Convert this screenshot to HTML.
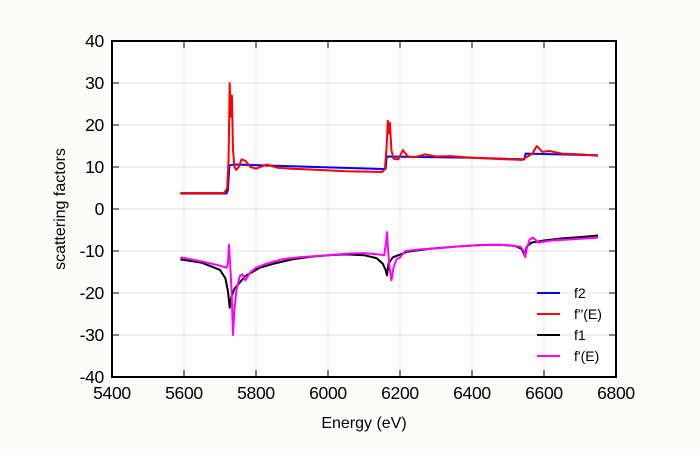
<!DOCTYPE html><html><head><style>body{margin:0;background:#fcfcfa}svg{font-family:"Liberation Sans",sans-serif}</style></head><body>
<svg id="s" width="700" height="450" xmlns="http://www.w3.org/2000/svg">
<rect width="700" height="450" fill="#fcfcfa"/>
<rect x="112" y="41" width="504" height="336" fill="#fff"/>
<g id="grid" stroke="#e0e0e0" stroke-width="1"></g>
<g id="series" fill="none" stroke-width="2" stroke-linejoin="round"></g>
<rect x="112" y="41" width="504" height="336" fill="none" stroke="#000" stroke-width="2"/>
<g id="ticks" stroke="#000" stroke-width="1"></g>
<g id="labels" font-size="17.5" fill="#000" letter-spacing="-0.3"></g>
<text x="364" y="428" font-size="16" text-anchor="middle">Energy (eV)</text>
<text transform="translate(65,209) rotate(-90)" font-size="16" text-anchor="middle">scattering factors</text>
<g font-size="14">
<line x1="537" y1="293" x2="560" y2="293" stroke="#0000ff" stroke-width="2"/><text x="574" y="298">f2</text>
<line x1="537" y1="314" x2="560" y2="314" stroke="#ff0000" stroke-width="2"/><text x="574" y="319">f''(E)</text>
<line x1="537" y1="335" x2="560" y2="335" stroke="#000" stroke-width="2"/><text x="574" y="340">f1</text>
<line x1="537" y1="356" x2="560" y2="356" stroke="#ff00ff" stroke-width="2"/><text x="574" y="361">f'(E)</text>
</g>
</svg>
<script>
const X=e=>112+(e-5400)*0.36, Y=v=>209-v*4.2, NS="http://www.w3.org/2000/svg";
function el(p,t,a){const n=document.createElementNS(NS,t);for(const k in a)n.setAttribute(k,a[k]);document.getElementById(p).appendChild(n);return n;}
for(let e=5600;e<=6600;e+=200){el("grid","line",{x1:X(e),x2:X(e),y1:41,y2:377});el("ticks","line",{x1:X(e),x2:X(e),y1:377,y2:370});el("ticks","line",{x1:X(e),x2:X(e),y1:41,y2:48});}
for(let v=-30;v<=30;v+=10){el("grid","line",{x1:112,x2:616,y1:Y(v),y2:Y(v)});el("ticks","line",{x1:112,x2:119,y1:Y(v),y2:Y(v)});el("ticks","line",{x1:616,x2:609,y1:Y(v),y2:Y(v)});}
for(let e=5400;e<=6800;e+=200){const t=el("labels","text",{x:X(e),y:399,"text-anchor":"middle"});t.textContent=e;}
for(let v=-40;v<=40;v+=10){const t=el("labels","text",{x:104,y:Y(v)+6,"text-anchor":"end"});t.textContent=v;}
const D={
"#0000ff":[[5590,3.7],[5718,3.7],[5722,4.5],[5726,10.4],[5740,10.6],[6000,9.9],[6160,9.5],[6163,12.5],[6400,12.2],[6545,11.8],[6549,13.2],[6750,12.8]],
"#ff0000":[[5590,3.8],[5712,3.8],[5720,5],[5724,12],[5727,30],[5730,22],[5733,27],[5736,14],[5740,10],[5745,9.3],[5752,10],[5760,11.8],[5770,11.5],[5785,10],[5800,9.6],[5830,10.6],[5860,9.8],[5900,9.6],[5950,9.4],[6000,9.2],[6050,9],[6100,8.9],[6150,8.8],[6158,9.5],[6163,15],[6166,21],[6169,18],[6172,20.5],[6176,14],[6182,12],[6195,11.8],[6208,14],[6222,12.5],[6240,12.3],[6270,13],[6300,12.5],[6340,12.6],[6400,12.2],[6450,12],[6500,11.8],[6540,11.7],[6548,12.2],[6556,12.6],[6568,13.2],[6580,15],[6595,13.6],[6615,13.8],[6650,13.2],[6700,13],[6750,12.7]],
"#000000":[[5590,-12],[5650,-12.8],[5700,-14.5],[5715,-16.5],[5722,-19.5],[5727,-23.5],[5731,-21],[5740,-19],[5770,-16],[5810,-14],[5850,-13],[5900,-12],[5950,-11.4],[6000,-11],[6050,-10.8],[6100,-11],[6135,-11.7],[6152,-13],[6160,-14.5],[6164,-15.8],[6168,-13],[6180,-11.5],[6220,-10.2],[6280,-9.5],[6350,-9],[6420,-8.6],[6480,-8.5],[6520,-8.8],[6538,-9.5],[6546,-11],[6552,-9],[6565,-8],[6600,-7.5],[6650,-7],[6700,-6.7],[6750,-6.3]],
"#ff00ff":[[5590,-11.5],[5650,-12.5],[5700,-13.5],[5718,-14],[5722,-13],[5725,-8.5],[5728,-13],[5732,-19],[5736,-30],[5740,-24],[5746,-19],[5755,-16],[5762,-15.5],[5770,-17],[5785,-15],[5800,-14],[5830,-13],[5870,-12],[5920,-11.5],[6000,-11],[6060,-10.6],[6100,-10.5],[6140,-10.8],[6156,-11],[6161,-8],[6164,-5.5],[6167,-10],[6171,-14],[6176,-17],[6182,-14],[6190,-12],[6200,-11.5],[6215,-10],[6260,-9.6],[6300,-9.4],[6350,-9],[6400,-8.7],[6450,-8.5],[6500,-8.6],[6535,-9],[6544,-10],[6548,-11.5],[6552,-9.5],[6560,-7.3],[6568,-6.8],[6576,-7.3],[6585,-8],[6620,-7.5],[6680,-7.2],[6750,-6.8]]};
for(const c of ["#0000ff","#ff0000","#000000","#ff00ff"]){el("series","path",{stroke:c,d:"M"+D[c].map(p=>X(p[0]).toFixed(1)+","+Y(p[1]).toFixed(1)).join("L")});}
</script>
</body></html>
